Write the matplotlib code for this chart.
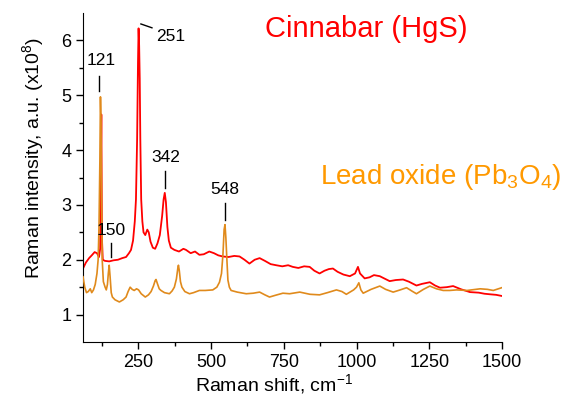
import matplotlib
matplotlib.use('Agg')
import matplotlib.pyplot as plt

plt.rcParams['font.family'] = ['Liberation Sans', 'DejaVu Sans']
plt.rcParams['mathtext.fontset'] = 'custom'
plt.rcParams['mathtext.rm'] = 'Liberation Sans'
plt.rcParams['mathtext.it'] = 'Liberation Sans:italic'

# ** Cinnabar (HgS) spectrum **
hgs_x = [60, 70, 81, 90, 100, 108, 115, 119, 121, 123, 125, 128, 135, 150, 165, 180, 195,
         208, 218, 225, 232, 238, 242, 246, 249, 251, 253, 255, 257, 260, 264, 268, 274,
         281, 286, 292, 300, 308, 316, 324, 332, 337, 341, 345, 350, 355, 362, 374, 390,
         405, 414, 430, 445, 460, 475, 494, 510, 525, 540, 560, 580, 598, 615, 632, 650,
         667, 685, 705, 724, 745, 765, 781, 800, 820, 839, 855, 873, 890, 905, 919, 935,
         955, 977, 995, 1005, 1012, 1028, 1045, 1060, 1080, 1095, 1114, 1135, 1160, 1180,
         1206, 1225, 1252, 1270, 1287, 1310, 1332, 1360, 1390, 1420, 1440, 1459, 1480, 1499]
hgs_y = [1.84, 1.95, 2.03, 2.08, 2.14, 2.12, 2.05, 2.2, 3.2, 4.65, 2.4, 2.0, 1.98, 1.97, 1.99, 2.0, 2.03,
         2.05, 2.12, 2.18, 2.35, 2.7, 3.1, 4.2, 5.6, 6.22, 5.9, 5.3, 4.2, 3.1, 2.7, 2.5, 2.45,
         2.55, 2.5, 2.33, 2.22, 2.2, 2.3, 2.45, 2.8, 3.1, 3.22, 3.05, 2.6, 2.35, 2.22, 2.18, 2.15,
         2.2, 2.18, 2.12, 2.15, 2.09, 2.1, 2.15, 2.12, 2.08, 2.06, 2.05, 2.07, 2.06, 2.0, 1.93, 2.0,
         2.03, 1.98, 1.92, 1.90, 1.88, 1.9, 1.87, 1.85, 1.88, 1.87, 1.8, 1.75, 1.8, 1.83, 1.84, 1.78,
         1.73, 1.70, 1.75, 1.87, 1.75, 1.66, 1.68, 1.72, 1.70, 1.66, 1.61, 1.63, 1.64, 1.6,
         1.53, 1.56, 1.59, 1.53, 1.49, 1.5, 1.52, 1.46, 1.41, 1.4, 1.38, 1.37, 1.36, 1.34]

# ** Lead oxide (Pb3O4) spectrum **
pb_x = [60, 66, 72, 78, 85, 90, 96, 102, 108, 112, 115, 118, 120, 122, 124, 126, 130, 136,
        140, 144, 147, 150, 153, 157, 161, 170, 185, 198, 208, 215, 222, 229, 236, 244, 251,
        260, 274, 285, 294, 302, 308, 311, 316, 322, 328, 340, 357, 366, 374, 381, 386, 388,
        391, 395, 400, 410, 426, 440, 460, 480, 506, 520, 529, 536, 541, 545, 548, 551, 555,
        558, 563, 569, 590, 621, 645, 667, 685, 701, 720, 747, 770, 805, 840, 873, 900, 931,
        950, 965, 990, 1000, 1008, 1015, 1023, 1050, 1080, 1100, 1126, 1150, 1172, 1190, 1206,
        1230, 1252, 1275, 1298, 1320, 1344, 1380, 1425, 1450, 1470, 1499]
pb_y = [1.69, 1.50, 1.40, 1.42, 1.47, 1.40, 1.45, 1.55, 1.75, 2.0, 2.6, 3.8, 4.97, 4.5, 3.0, 2.0, 1.6, 1.5,
        1.45, 1.55, 1.75, 1.90, 1.7, 1.4, 1.32, 1.27, 1.23, 1.27, 1.32, 1.42, 1.50, 1.46, 1.44, 1.47, 1.45,
        1.38, 1.32, 1.36, 1.42, 1.52, 1.62, 1.64, 1.56, 1.47, 1.44, 1.40, 1.38, 1.43, 1.50, 1.65, 1.85, 1.90,
        1.80, 1.6, 1.50, 1.42, 1.38, 1.40, 1.44, 1.44, 1.45, 1.5, 1.59, 1.75, 2.1, 2.55, 2.64, 2.4, 1.95,
        1.63, 1.5, 1.44, 1.41, 1.38, 1.39, 1.41, 1.36, 1.32, 1.35, 1.39, 1.38, 1.41, 1.37, 1.36, 1.4, 1.45,
        1.42, 1.37, 1.45, 1.5, 1.58, 1.45, 1.39, 1.46, 1.52, 1.46, 1.41, 1.45, 1.49, 1.43, 1.38,
        1.46, 1.52, 1.47, 1.44, 1.44, 1.45, 1.44, 1.47, 1.46, 1.44, 1.49]

# peak labels: (text, text x, text y, line x0, y0, x1, y1)
peak_labels = [
    ('121', 122, 5.64, 116, 5.35, 116, 5.07),
    ('150', 158, 2.53, 156, 2.31, 156, 2.05),
    ('251', 360, 6.08, 259, 6.30, 297, 6.23),
    ('342', 345, 3.87, 341, 3.61, 341, 3.30),
    ('548', 549, 3.28, 549, 3.04, 549, 2.73),
]


def main():
    fig = plt.figure(figsize=(5.74, 4.07), dpi=100)
    ax = fig.add_axes([83 / 574, 65 / 407, 419 / 574, 329 / 407])

    ax.plot(hgs_x, hgs_y, color='#ff0000', lw=1.3, zorder=2)
    ax.plot(pb_x, pb_y, color='#e08a1c', lw=1.2, zorder=3)

    for t, tx, ty, x0, y0, x1, y1 in peak_labels:
        ax.text(tx, ty, t, ha='center', va='center', fontsize=12.5)
        ax.plot([x0, x1], [y0, y1], color='black', lw=1)

    ax.set_xlim(60, 1500)
    ax.set_ylim(0.5, 6.5)
    ax.set_xticks([250, 500, 750, 1000, 1250, 1500])
    ax.set_xticks([125, 375, 625, 875, 1125, 1375], minor=True)
    ax.set_yticks([1, 2, 3, 4, 5, 6])
    ax.set_yticks([1.5, 2.5, 3.5, 4.5, 5.5], minor=True)
    ax.spines['top'].set_visible(False)
    ax.spines['right'].set_visible(False)
    ax.tick_params(which='major', length=5, width=1, labelsize=13)
    ax.tick_params(which='minor', length=3, width=1)

    ax.set_xlabel('Raman shift, cm$^{-1}$', fontsize=14)
    ax.xaxis.set_label_coords(0.456, -0.09)
    ax.set_ylabel('Raman intensity, a.u. (x10$^{8}$)', fontsize=14)
    ax.yaxis.set_label_coords(-0.088, 0.56)

    fig.text(366.5 / 574, 1 - 36.7 / 407, 'Cinnabar (HgS)', color='#ff0000',
             fontsize=21, ha='center', va='baseline')
    fig.text(320 / 574, 1 - 184 / 407, 'Lead oxide (Pb$_3$O$_4$)', color='#ff9900',
             fontsize=20, ha='left', va='baseline')

    plt.savefig('out.png', dpi=100)


if __name__ == '__main__':
    main()
